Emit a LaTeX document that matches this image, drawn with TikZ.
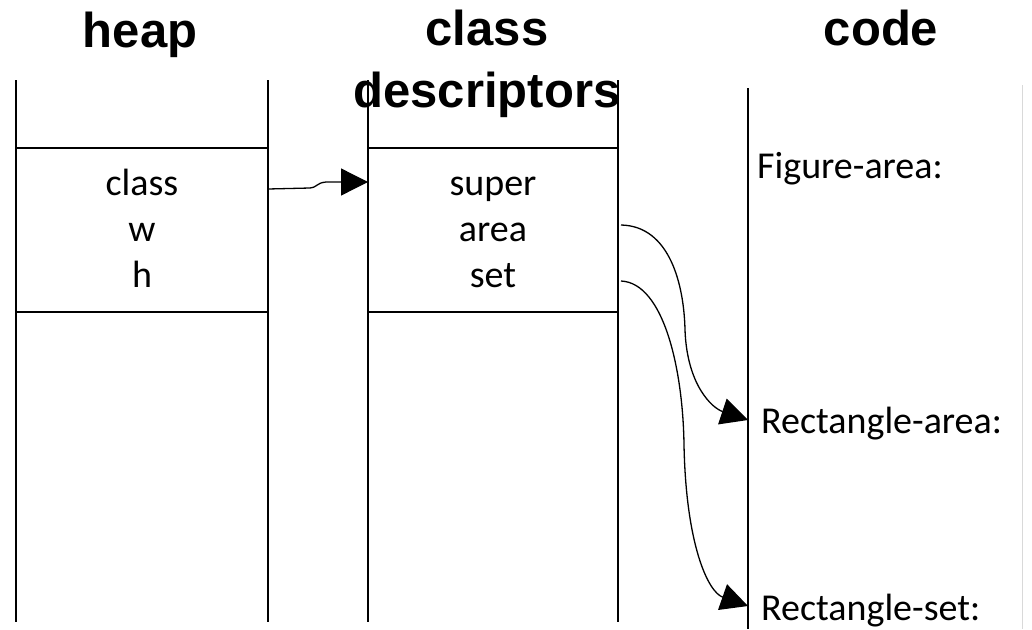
\documentclass[tikz,border=0pt]{standalone}
\usepackage{fontspec}
\setmainfont{Carlito}
\newfontfamily\headfont{Liberation Sans}
\usetikzlibrary{arrows.meta}
\begin{document}
\begin{tikzpicture}[x=1pt,y=-1pt,
  col/.style={line width=2pt,line cap=butt},
  conn/.style={line width=1.3pt,-{Triangle[length=27pt,width=27pt]}},
  head/.style={font=\headfont\bfseries\fontsize{49}{60}\selectfont,inner sep=0pt,anchor=base},
  body/.style={font=\fontsize{38}{46}\selectfont,inner sep=0pt,anchor=base},
  lbl/.style={font=\fontsize{38}{46}\selectfont,inner sep=0pt,anchor=base west}]
\useasboundingbox (0,0) rectangle (1032,629);
\fill[white] (0,0) rectangle (1032,629);
% heap column
\draw[col] (16,80) -- (16,622);
\draw[col] (268,80) -- (268,622);
\draw[col] (16,148) -- (268,148);
\draw[col] (16,312) -- (268,312);
% class descriptors column
\draw[col] (368,80) -- (368,622);
\draw[col] (618,80) -- (618,622);
\draw[col] (368,148) -- (618,148);
\draw[col] (368,312) -- (618,312);
% code column
\draw[col] (748,88) -- (748,629);
\draw[line width=1pt,gray!30] (1022,85) -- (1022,629);
% headings
\node[head] (heap) at (140,47) {heap};
\node[head] (cls1) at (487,45) {class};
\node[head] (cls2) at (487,107) {descriptors};
\node[head] (code) at (881,45) {code};
% heap fields
\node[body] (hclass) at (142,195) {class};
\node[body] (hw) at (142,241) {w};
\node[body] (hh) at (142,287) {h};
% descriptor fields
\node[body] (dsuper) at (493,195) {super};
\node[body] (darea) at (493,241) {area};
\node[body] (dset) at (493,287) {set};
% code labels
\node[lbl] (fa) at (757,178) {Figure-area:};
\node[lbl] (ra) at (761,433) {Rectangle-area:};
\node[lbl] (rs) at (761,620) {Rectangle-set:};
% connector end points
\coordinate (pA) at (268,189);
\coordinate (pB) at (368,182);
\coordinate (pC) at (621,225);
\coordinate (pD) at (748,420);
\coordinate (pE) at (621,281);
\coordinate (pF) at (748,606);
% connectors
\draw[conn] (pA) -- (310,188) .. controls (318,187) and (316,183) .. (326,182) -- (pB);
\draw[conn] (pC) .. controls (670,226) and (684,285) .. (685,330)
  .. controls (687,385) and (712,408) .. (pD);
\draw[conn] (pE) .. controls (664,283) and (683,370) .. (684,445)
  .. controls (686,545) and (708,592) .. (pF);
\end{tikzpicture}
\end{document}
